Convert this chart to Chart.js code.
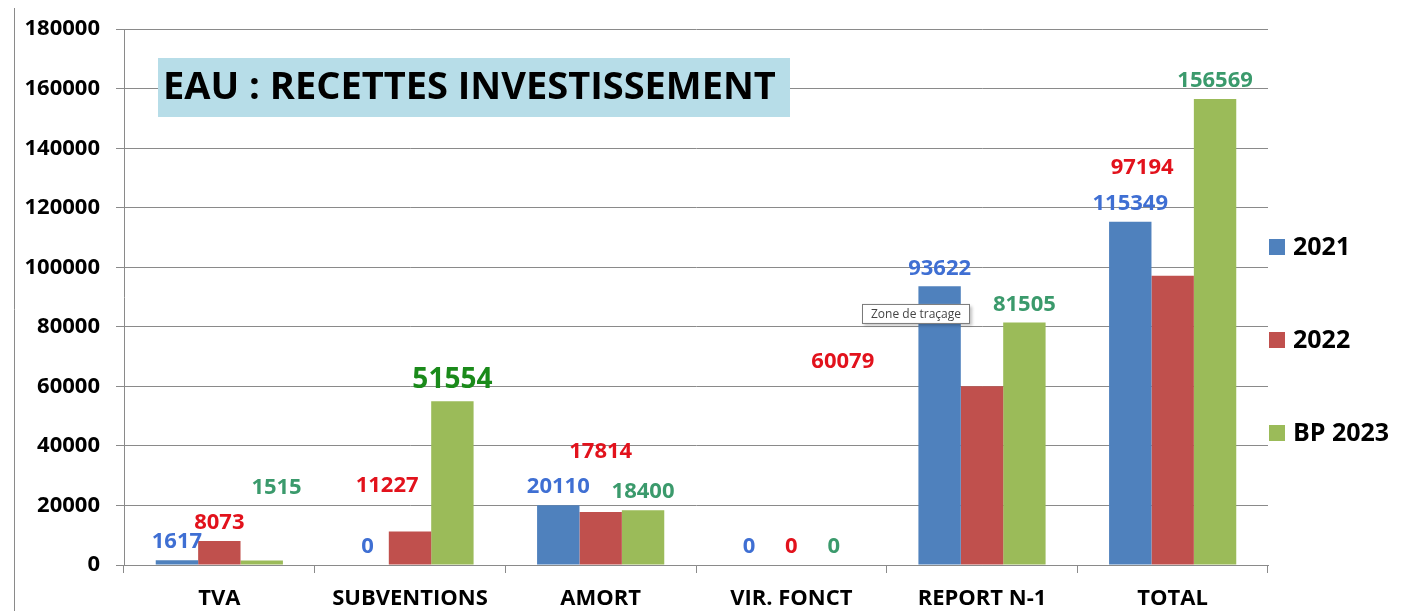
<!DOCTYPE html>
<html lang="fr">
<head>
    <meta charset="UTF-8">
    <title>EAU : RECETTES INVESTISSEMENT</title>
    <style>
        html, body { margin: 0; padding: 0; background: #fff; }
        #wrap { width: 1413px; height: 611px; position: relative; }
    </style>
    <script src="https://cdn.jsdelivr.net/npm/chart.js"></script>
</head>
<body>
    <div id="wrap"><canvas id="chart" width="1413" height="611"></canvas></div>
    <script>
        // data
        const categories = ['TVA', 'SUBVENTIONS', 'AMORT', 'VIR. FONCT', 'REPORT N-1', 'TOTAL'];
        const seriesNames = ['2021', '2022', 'BP 2023'];
        const values2021 = [1617, 0, 20110, 0, 93622, 115349];
        const values2022 = [8073, 11227, 17814, 0, 60079, 97194];
        const valuesBP2023 = [1515, 55000, 18400, 0, 81505, 156569]; // bar heights as drawn
        const labels2021 = [1617, 0, 20110, 0, 93622, 115349];
        const labels2022 = [8073, 11227, 17814, 0, 60079, 97194];
        const labelsBP2023 = [1515, 51554, 18400, 0, 81505, 156569];
        const yTicks = [0, 20000, 40000, 60000, 80000, 100000, 120000, 140000, 160000, 180000];

        const barColors = ['#4F81BD', '#C0504D', '#9BBB59'];
        const labelColors = ['#3F6FD3', '#E2121C', '#3B9A6C'];
        const FONT = '"Open Sans", "Liberation Sans", sans-serif';

        // labels that were moved by hand in the original (x in category units, y in data units)
        const movedLabels = {
            '2-0': { x: 0.30, y: 26000 },
            '1-1': { x: 0.88, y: 26700 },
            '1-2': { x: 2.0, y: 38000 },
            '1-4': { x: 3.27, y: 68300 },
            '1-5': { x: 4.84, y: 133300 }
        };

        const valueLabels = {
            id: 'valueLabels',
            afterDatasetsDraw(chart) {
                const ctx = chart.ctx;
                const xs = chart.scales.x, ys = chart.scales.y;
                const allLabels = [labels2021, labels2022, labelsBP2023];
                ctx.save();
                ctx.textAlign = 'center';
                ctx.textBaseline = 'middle';
                chart.data.datasets.forEach((ds, di) => {
                    const meta = chart.getDatasetMeta(di);
                    meta.data.forEach((bar, i) => {
                        const txt = String(allLabels[di][i]);
                        let x = bar.x, y = bar.y - 18;
                        const mv = movedLabels[di + '-' + i];
                        if (mv) {
                            x = xs.getPixelForValue(mv.x);
                            y = ys.getPixelForValue(mv.y);
                        }
                        if (di === 2 && i === 1) {
                            ctx.font = 'bold 28px ' + FONT;
                            ctx.fillStyle = '#1A8A1A';
                            y -= 3;
                        } else {
                            ctx.font = 'bold 22px ' + FONT;
                            ctx.fillStyle = labelColors[di];
                        }
                        ctx.fillText(txt, x, y);
                    });
                });
                ctx.restore();
            }
        };

        const decorations = {
            id: 'decorations',
            beforeDraw(chart) {
                const ctx = chart.ctx;
                ctx.save();
                ctx.fillStyle = '#fff';
                ctx.fillRect(0, 0, chart.width, chart.height);
                // chart frame edge on the left
                ctx.strokeStyle = '#8a8a8a';
                ctx.lineWidth = 1;
                ctx.beginPath();
                ctx.moveTo(14.5, 8);
                ctx.lineTo(14.5, chart.height);
                ctx.stroke();
                ctx.restore();
            },
            afterDraw(chart) {
                const ctx = chart.ctx;
                const xs = chart.scales.x, ys = chart.scales.y;
                ctx.save();
                // title box
                ctx.fillStyle = '#B7DDE8';
                ctx.fillRect(158, 58, 632, 59);
                ctx.fillStyle = '#000';
                ctx.font = 'bold 38px ' + FONT;
                ctx.textBaseline = 'middle';
                ctx.textAlign = 'left';
                ctx.fillText('EAU : RECETTES INVESTISSEMENT', 163, 88);

                // legend
                ctx.font = 'bold 25px ' + FONT;
                const legendY = [247, 340, 433];
                seriesNames.forEach((name, i) => {
                    ctx.fillStyle = barColors[i];
                    ctx.fillRect(1269, legendY[i] - 8, 16, 16);
                    ctx.fillStyle = '#000';
                    ctx.fillText(name, 1293, legendY[i] + 1);
                });

                // Excel hover tip left on the screenshot
                const tx = xs.getPixelForValue(4) - 120;
                const ty = ys.getPixelForValue(87700);
                ctx.shadowColor = 'rgba(0,0,0,0.25)';
                ctx.shadowBlur = 3;
                ctx.shadowOffsetX = 2;
                ctx.shadowOffsetY = 2;
                ctx.fillStyle = '#fff';
                ctx.fillRect(tx, ty, 108, 20);
                ctx.shadowColor = 'transparent';
                ctx.strokeStyle = '#7a7a7a';
                ctx.strokeRect(tx + 0.5, ty + 0.5, 107, 19);
                ctx.fillStyle = '#444';
                ctx.font = '12px ' + FONT;
                ctx.textAlign = 'center';
                ctx.fillText('Zone de traçage', tx + 54, ty + 10.5);
                ctx.restore();
            }
        };

        new Chart(document.getElementById('chart'), {
            type: 'bar',
            data: {
                labels: categories,
                datasets: [
                    { label: seriesNames[0], data: values2021, backgroundColor: barColors[0] },
                    { label: seriesNames[1], data: values2022, backgroundColor: barColors[1] },
                    { label: seriesNames[2], data: valuesBP2023, backgroundColor: barColors[2] }
                ]
            },
            options: {
                responsive: false,
                animation: false,
                layout: { padding: { left: 0, right: 145, top: 25, bottom: 0 } },
                datasets: { bar: { categoryPercentage: 0.667, barPercentage: 1 } },
                plugins: { legend: { display: false }, title: { display: false }, tooltip: { enabled: false } },
                scales: {
                    x: {
                        grid: { display: true, drawOnChartArea: false, drawTicks: true, tickLength: 8, color: '#8a8a8a' },
                        border: { display: true, color: '#8a8a8a' },
                        ticks: { color: '#000', font: { family: FONT, size: 22, weight: 'bold' }, padding: 13, maxRotation: 0 },
                        afterFit(scale) { scale.height = 46; }
                    },
                    y: {
                        min: 0,
                        max: 180000,
                        afterBuildTicks(scale) { scale.ticks = yTicks.map(v => ({ value: v })); },
                        grid: { color: '#8a8a8a', tickLength: 8 },
                        border: { display: true, color: '#8a8a8a' },
                        ticks: {
                            color: '#000',
                            font: { family: FONT, size: 22, weight: 'bold' },
                            padding: 16,
                            callback: v => String(v)
                        },
                        afterFit(scale) { scale.width = 124; }
                    }
                }
            },
            plugins: [decorations, valueLabels]
        });
    </script>
</body>
</html>
